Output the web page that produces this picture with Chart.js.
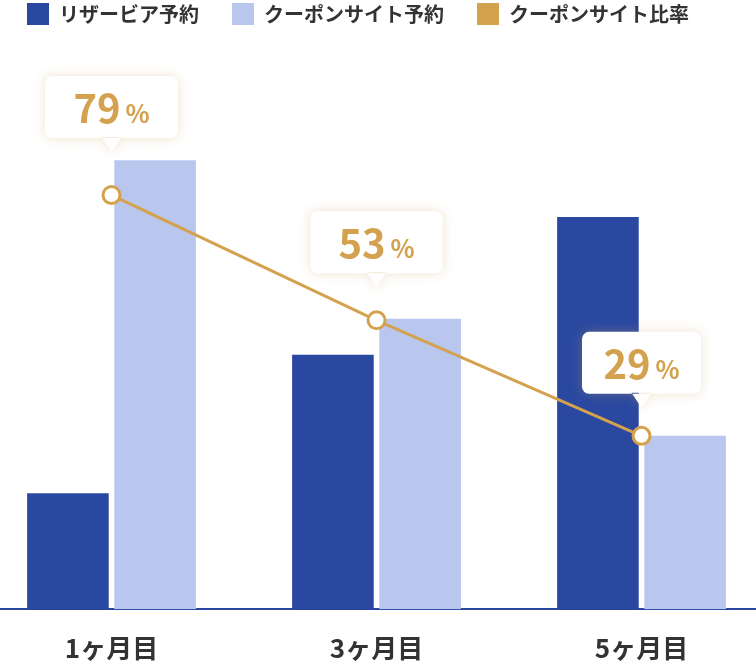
<!DOCTYPE html>
<html>
<head>
<meta charset="utf-8">
<script src="https://cdn.jsdelivr.net/npm/chart.js@4.4.1/dist/chart.umd.min.js"></script>
<style>
  html, body { margin: 0; padding: 0; background: #fff; }
</style>
</head>
<body>
<canvas id="chart" width="756" height="666"></canvas>
<script>
// Data
const months = ['1ヶ月目', '3ヶ月目', '5ヶ月目'];
const seriesNames = ['リザービア予約', 'クーポンサイト予約', 'クーポンサイト比率'];
const reserviaBookings = [20.2, 44.3, 68.3];
const couponBookings = [78.2, 50.6, 30.2];
const couponRatio = [79, 53, 29];

const colors = ['#2a48a0', '#b9c7ef', '#d4a24e'];
const FONT = "'Noto Sans CJK JP', 'Noto Sans', sans-serif";

// callout box geometry (per label)
const calloutLift = [57, 47, 42];
const calloutWidth = [133, 132, 119];

const toPoints = arr => arr.map((v, i) => ({ x: i, y: v }));

const calloutPlugin = {
  id: 'callouts',
  afterDatasetsDraw(chart) {
    const ctx = chart.ctx;
    const meta = chart.getDatasetMeta(2);
    meta.data.forEach((pt, i) => {
      const w = calloutWidth[i], h = 62;
      const bottom = pt.y - calloutLift[i];
      const top = bottom - h;
      const left = pt.x - w / 2;

      ctx.save();
      ctx.shadowColor = 'rgba(205, 165, 95, 0.32)';
      ctx.shadowBlur = 12;
      ctx.fillStyle = '#fff';
      ctx.beginPath();
      ctx.roundRect(left, top, w, h, 7);
      ctx.moveTo(pt.x - 10, bottom - 1);
      ctx.lineTo(pt.x, bottom + 14);
      ctx.lineTo(pt.x + 10, bottom - 1);
      ctx.closePath();
      ctx.fill();
      ctx.restore();

      ctx.save();
      ctx.fillStyle = colors[2];
      ctx.textBaseline = 'alphabetic';
      ctx.textAlign = 'left';
      const num = String(couponRatio[i]);
      ctx.font = 'bold 40px ' + FONT;
      const w1 = ctx.measureText(num).width;
      ctx.font = 'bold 25px ' + FONT;
      const w2 = ctx.measureText('%').width;
      const gap = 5;
      const start = pt.x - (w1 + gap + w2) / 2;
      ctx.font = 'bold 40px ' + FONT;
      ctx.fillText(num, start, top + 47);
      ctx.font = 'bold 25px ' + FONT;
      ctx.fillText('%', start + w1 + gap, top + 47);
      ctx.restore();
    });
  }
};

const ctx = document.getElementById('chart').getContext('2d');
new Chart(ctx, {
  type: 'bar',
  data: {
    datasets: [
      {
        label: seriesNames[0],
        data: toPoints(reserviaBookings),
        backgroundColor: colors[0],
        yAxisID: 'y',
        order: 1,
        categoryPercentage: 0.658,
        barPercentage: 0.936
      },
      {
        label: seriesNames[1],
        data: toPoints(couponBookings),
        backgroundColor: colors[1],
        yAxisID: 'y',
        order: 1,
        categoryPercentage: 0.658,
        barPercentage: 0.936
      },
      {
        type: 'line',
        label: seriesNames[2],
        data: toPoints(couponRatio),
        borderColor: colors[2],
        backgroundColor: colors[2],
        borderWidth: 3,
        tension: 0,
        pointRadius: 8.5,
        pointBorderWidth: 3,
        pointBackgroundColor: '#fff',
        pointBorderColor: colors[2],
        yAxisID: 'y1',
        order: 0
      }
    ]
  },
  options: {
    responsive: false,
    animation: false,
    layout: { autoPadding: false, padding: { left: -6, right: 0, top: -30, bottom: -20.4 } },
    plugins: {
      legend: {
        position: 'top',
        align: 'start',
        labels: {
          boxWidth: 22,
          boxHeight: 22,
          padding: 33,
          color: '#333',
          font: { family: FONT, size: 20, weight: 'bold' },
          sort: (a, b) => a.datasetIndex - b.datasetIndex,
          generateLabels: chart =>
            Chart.defaults.plugins.legend.labels.generateLabels(chart).map(item =>
              Object.assign(item, {
                fillStyle: colors[item.datasetIndex],
                strokeStyle: colors[item.datasetIndex],
                lineWidth: 0
              }))
        }
      },
      tooltip: { enabled: false }
    },
    scales: {
      x: {
        type: 'linear',
        min: -0.4208,
        max: 2.432,
        offset: false,
        grid: { display: false, drawTicks: false },
        border: { display: true, color: colors[0], width: 2 },
        afterBuildTicks: scale => { scale.ticks = months.map((_, i) => ({ value: i })); },
        ticks: {
          autoSkip: false,
          padding: 23,
          color: '#333',
          font: { family: FONT, size: 26, weight: 'bold' },
          callback: v => months[v] ?? ''
        }
      },
      y: { display: false, min: 0, max: 100 },
      y1: { display: false, position: 'right', min: -7, max: 112.24 }
    }
  },
  plugins: [calloutPlugin]
});
</script>
</body>
</html>
